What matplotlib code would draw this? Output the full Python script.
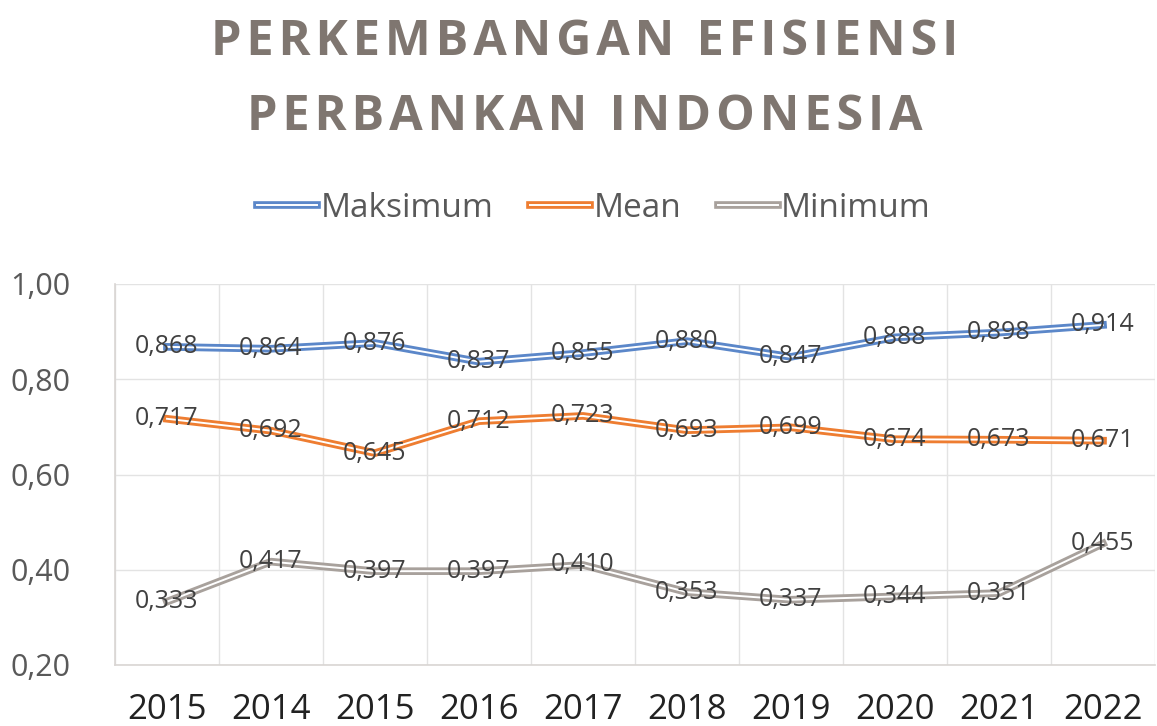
import numpy as np
import matplotlib.pyplot as plt
import matplotlib.patheffects as pe
from matplotlib.ticker import FixedLocator, FuncFormatter

### Data
years = ['2015', '2014', '2015', '2016', '2017', '2018', '2019', '2020', '2021', '2022']
maksimum = [0.868, 0.864, 0.876, 0.837, 0.855, 0.880, 0.847, 0.888, 0.898, 0.914]
mean = [0.717, 0.692, 0.645, 0.712, 0.723, 0.693, 0.699, 0.674, 0.673, 0.671]
minimum = [0.333, 0.417, 0.397, 0.397, 0.410, 0.353, 0.337, 0.344, 0.351, 0.455]

series = [('Maksimum', maksimum, '#5b87c9'),
          ('Mean', mean, '#ee7d31'),
          ('Minimum', minimum, '#a8a19c')]

plt.rcParams['font.family'] = ['Open Sans', 'DejaVu Sans']

### Figure
fig = plt.figure(figsize=(11.57, 7.26), dpi=100)
ax = fig.add_axes([115/1157, 1-665/726, 1040/1157, 381/726])

x = np.arange(len(years))
for name, vals, col in series:
    ## double (compound) line: coloured stroke with a white core
    ax.plot(x, vals, '-', color='white', lw=1.4, label=name, zorder=3,
            path_effects=[pe.Stroke(linewidth=5.5, foreground=col), pe.Normal()])
    for xi, v in zip(x, vals):
        ax.text(xi, v, ('%.3f' % v).replace('.', ','), ha='center', va='center',
                fontsize=18, color='#404040', zorder=4)

### Axes
ax.set_xlim(-0.5, len(years) - 0.5)
ax.set_ylim(0.2, 1.0)
ax.yaxis.set_major_locator(FixedLocator([0.2, 0.4, 0.6, 0.8, 1.0]))
ax.yaxis.set_major_formatter(FuncFormatter(lambda v, p: ('%.2f' % v).replace('.', ',')))
ax.set_xticks(x)
ax.set_xticklabels(years)
ax.xaxis.set_minor_locator(FixedLocator(np.arange(-0.5, len(years), 1.0)))
ax.tick_params(axis='y', length=0, pad=32, labelsize=22, labelcolor='#595959')
ax.tick_params(axis='x', which='major', length=0, pad=20, labelsize=25, labelcolor='#222222')
ax.tick_params(axis='x', which='minor', length=0)
ax.grid(True, axis='y', color='#e3e3e3', lw=1)
ax.grid(True, axis='x', which='minor', color='#e3e3e3', lw=1)
for s in ['top', 'right']:
    ax.spines[s].set_visible(False)
for s in ['left', 'bottom']:
    ax.spines[s].set_color('#d9d5d3')
    ax.spines[s].set_linewidth(1.2)

### Legend
fig.legend(loc='center', bbox_to_anchor=(594/1157, 1-208/726), ncol=3, frameon=False,
           fontsize=24, handlelength=1.8, handletextpad=0.1, columnspacing=1.1,
           labelcolor='#595959')

### Title (hair spaces give the letter spacing)
title_col = '#7f7670'
fig.text(585/1157, 1-55/726, '\u200a'.join('PERKEMBANGAN EFISIENSI'), ha='center', va='baseline',
         fontsize=35, fontweight='bold', color=title_col)
fig.text(585/1157, 1-130/726, '\u200a'.join('PERBANKAN INDONESIA'), ha='center', va='baseline',
         fontsize=35, fontweight='bold', color=title_col)

fig.savefig('out.png', dpi=100)
